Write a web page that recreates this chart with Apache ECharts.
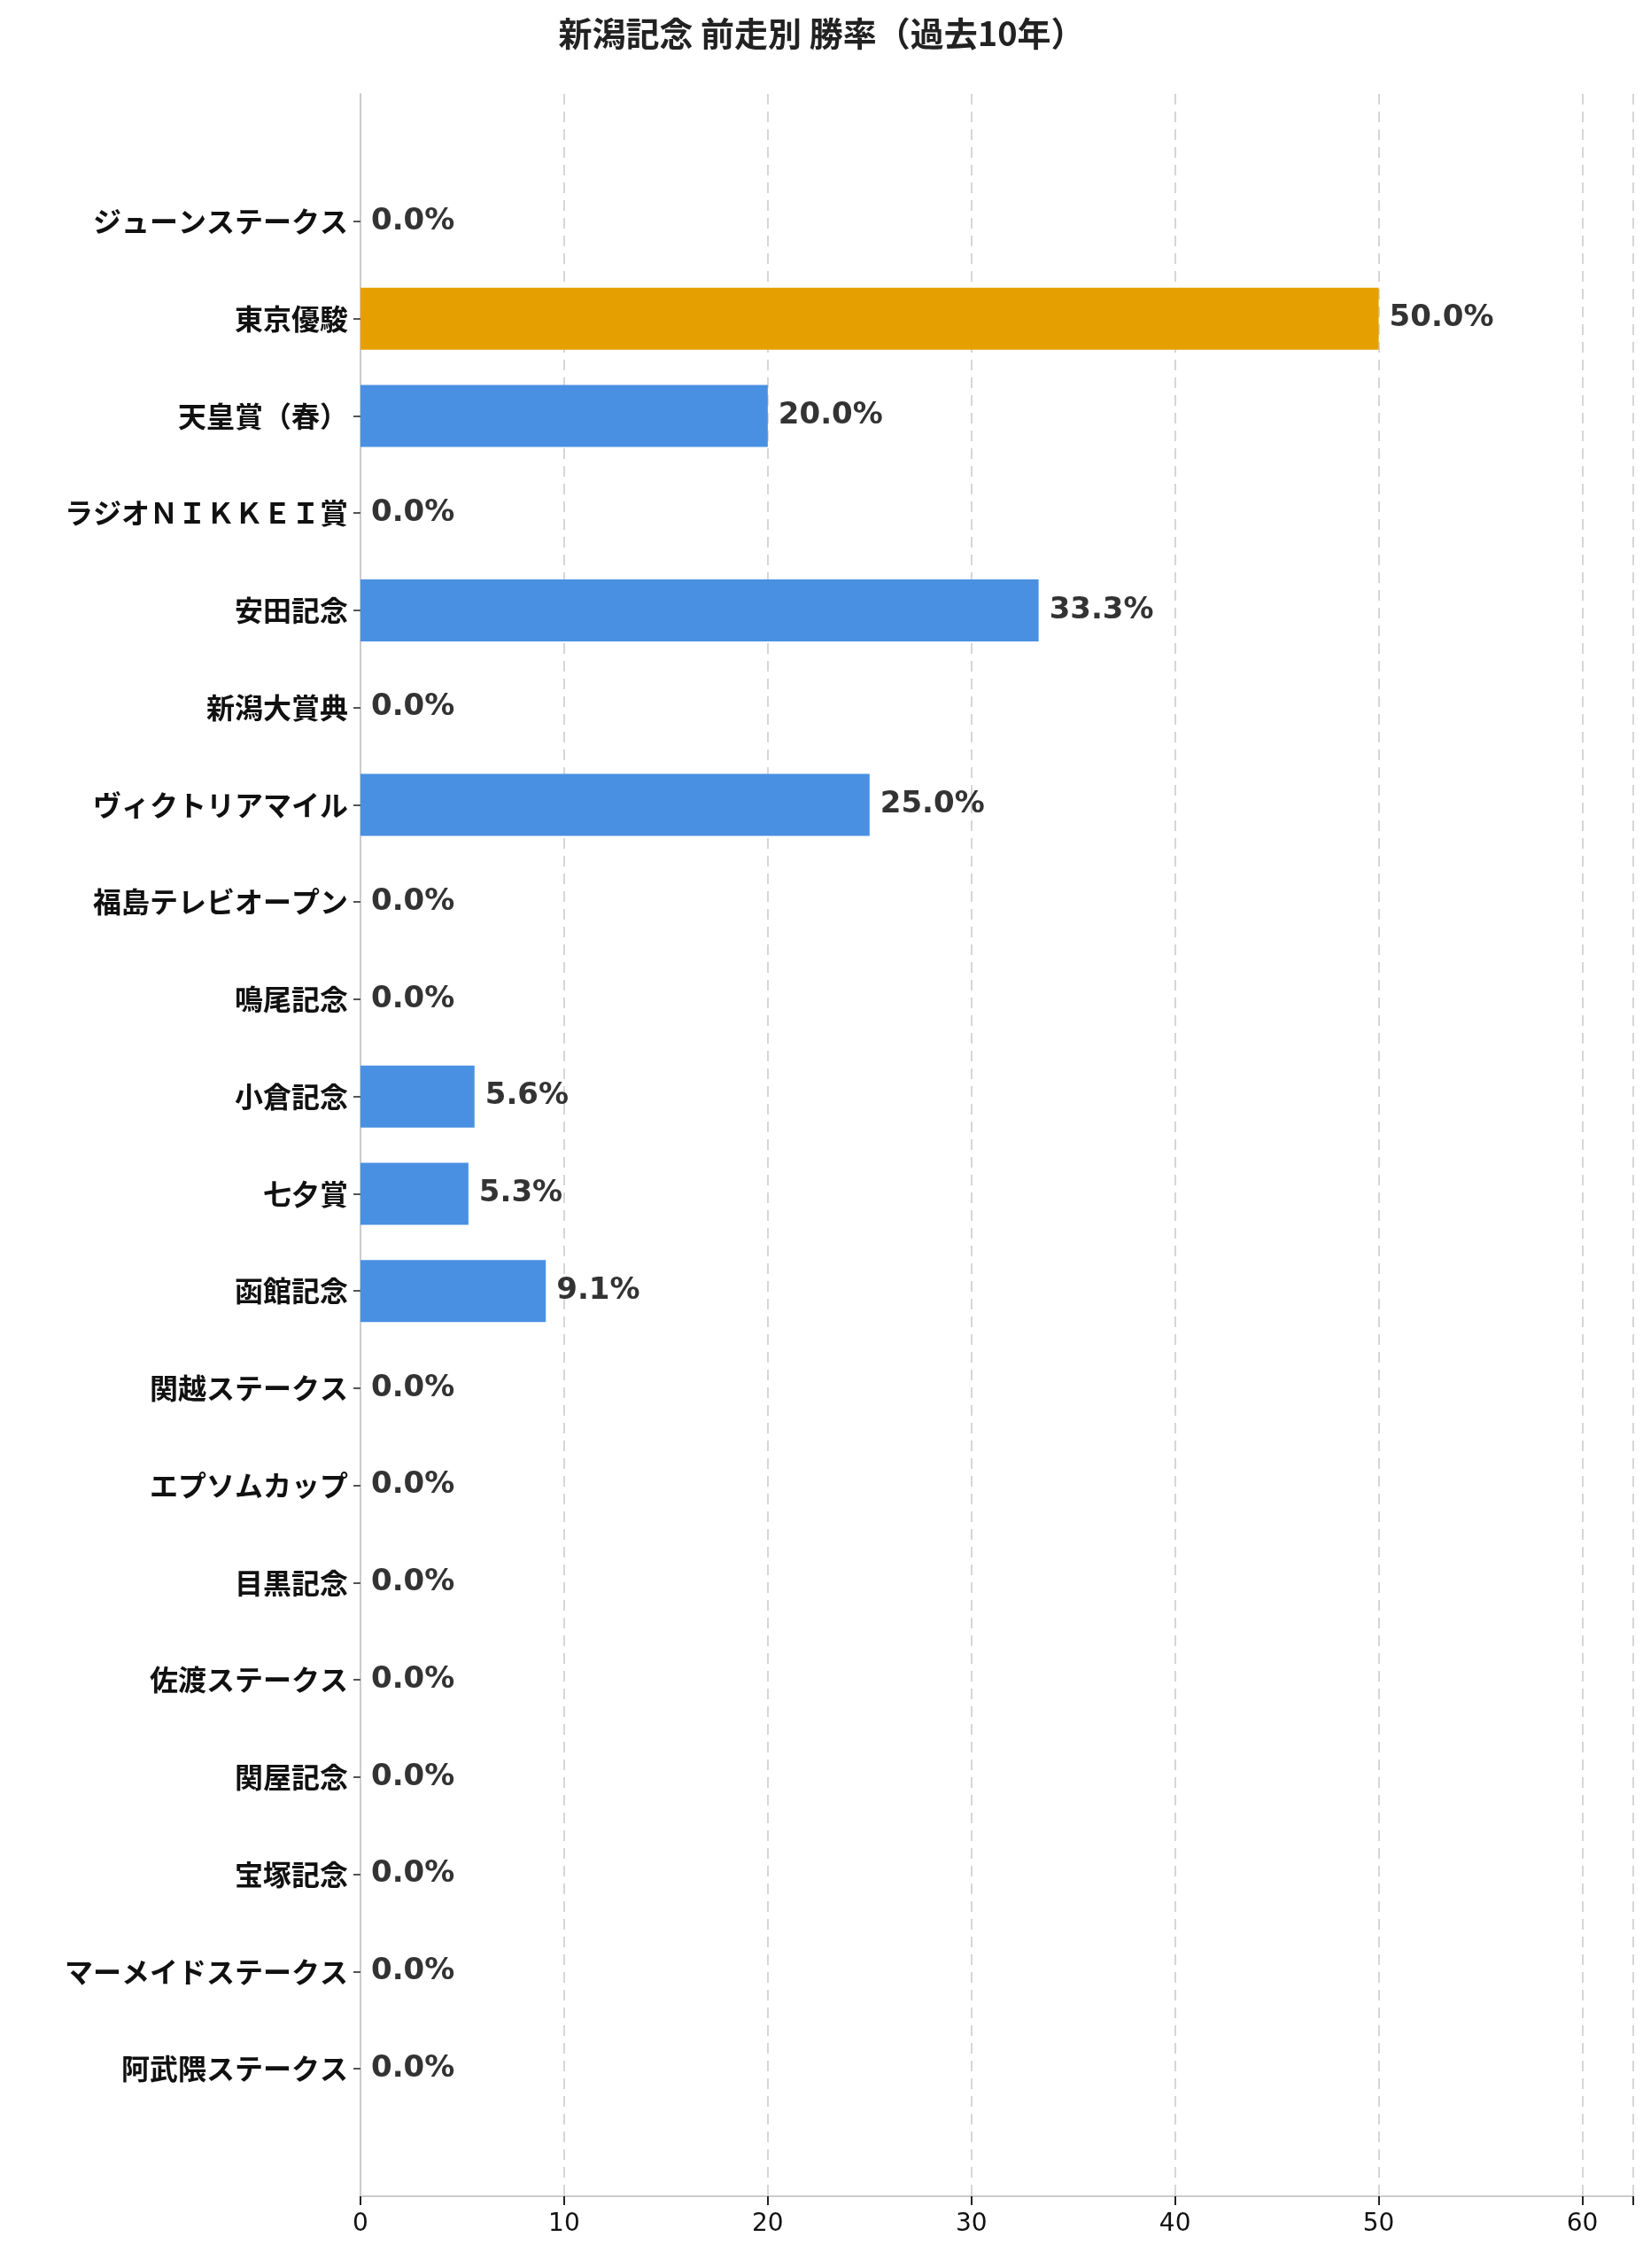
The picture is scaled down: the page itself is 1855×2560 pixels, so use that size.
<!DOCTYPE html>
<html><head><meta charset="utf-8">
<script src="https://cdn.jsdelivr.net/npm/echarts@6/dist/echarts.min.js"></script>
<style>html,body{margin:0;background:#fff}#c{width:1855px;height:2560px}</style>
</head><body><div id="c"></div>
<script>
const races = ['ジューンステークス','東京優駿','天皇賞（春）','ラジオＮＩＫＫＥＩ賞','安田記念','新潟大賞典','ヴィクトリアマイル','福島テレビオープン','鳴尾記念','小倉記念','七夕賞','函館記念','関越ステークス','エプソムカップ','目黒記念','佐渡ステークス','関屋記念','宝塚記念','マーメイドステークス','阿武隈ステークス'];
const winRate = [0,50,20,0,33.3,0,25,0,0,5.6,5.3,9.1,0,0,0,0,0,0,0,0];
const highlight = '東京優駿';
const xTicks = [0,10,20,30,40,50,60];

const font = 'DejaVu Sans, Noto Sans CJK JP, sans-serif';
const chart = echarts.init(document.getElementById('c'));
const xCommon = {type:'value', min:0, max:62.5, interval:10};
chart.setOption({
  animation:false,
  title:{text:'新潟記念 前走別 勝率（過去10年）', left:'center', top:14,
    textStyle:{fontSize:38, fontWeight:'bold', color:'#222', fontFamily:'Noto Sans CJK JP'}},
  grid:[
    {left:407, right:11, top:106, bottom:81},
    {left:407, right:11, top:195, bottom:170}
  ],
  xAxis:[
    Object.assign({gridIndex:0,
      axisLine:{show:true,lineStyle:{color:'#ccc',width:2}},
      axisTick:{show:true,length:10,lineStyle:{color:'#222',width:2}},
      axisLabel:{fontSize:28,color:'#111',margin:18,fontFamily:font,
        formatter:v=>xTicks.includes(v)?String(v):''},
      splitLine:{show:true,lineStyle:{type:[12,8],color:'#d6d6d6',width:2}}}, xCommon),
    Object.assign({gridIndex:1, show:false, splitLine:{show:false}}, xCommon)
  ],
  yAxis:[
    {gridIndex:0, type:'value', min:0, max:1, axisLine:{show:true,lineStyle:{color:'#ccc',width:2}},
     axisTick:{show:false}, axisLabel:{show:false}, splitLine:{show:false}},
    {gridIndex:1, type:'category', data:races, inverse:true,
     axisLine:{show:false}, axisTick:{show:true,length:8,alignWithLabel:true,lineStyle:{color:'#555',width:2}},
     axisLabel:{fontSize:32,fontWeight:'bold',color:'#111',margin:14,fontFamily:'Noto Sans CJK JP'}}
  ],
  series:[{
    type:'bar', xAxisIndex:1, yAxisIndex:1, barWidth:70,
    data:winRate.map((v,i)=>({value:v,itemStyle:{color:races[i]===highlight?'#e5a000':'#4a90e2'}})),
    label:{show:true, position:'right', distance:12, formatter:p=>p.value.toFixed(1)+'%',
      fontSize:34, fontWeight:'bold', color:'#333', fontFamily:font}
  }]
});
</script></body></html>
